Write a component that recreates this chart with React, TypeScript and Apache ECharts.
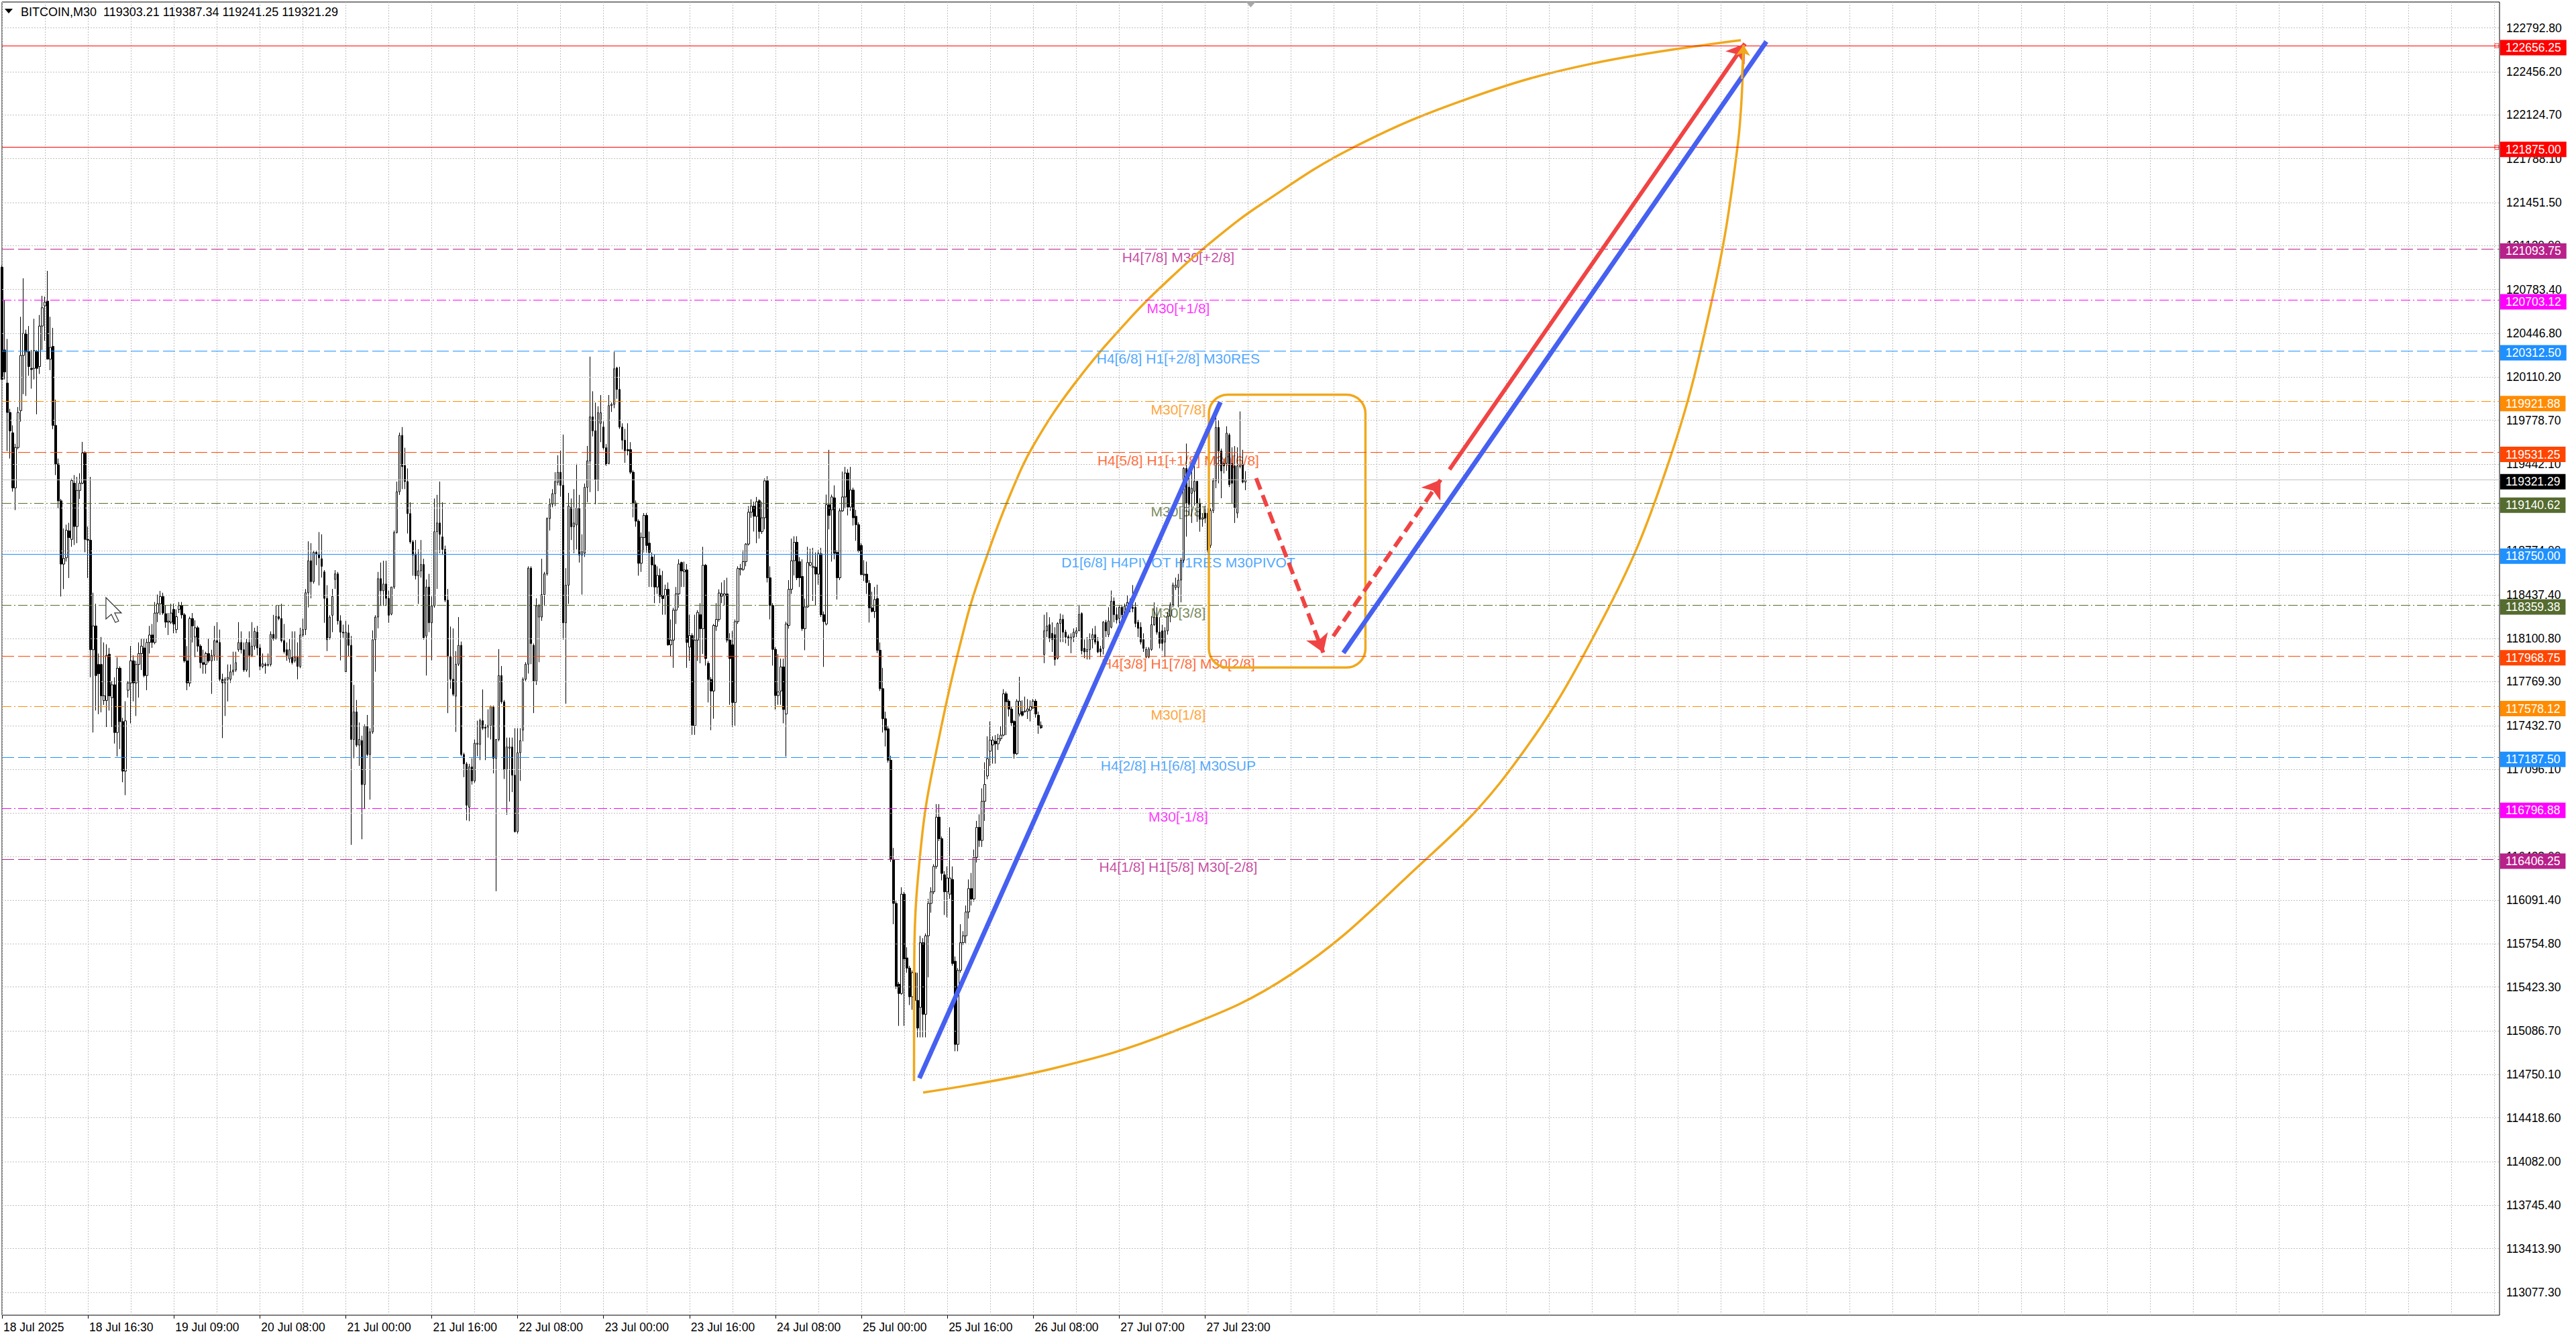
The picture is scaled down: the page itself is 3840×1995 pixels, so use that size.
import React, { useEffect, useRef } from "react";
import * as echarts from "echarts";

// ---------- DATA ----------
const symbolName = "BITCOIN,M30";
const timeLabels = [
  "18 Jul 2025", "18 Jul 16:30", "19 Jul 09:00", "20 Jul 08:00", "21 Jul 00:00",
  "21 Jul 16:00", "22 Jul 08:00", "23 Jul 00:00", "23 Jul 16:00", "24 Jul 08:00",
  "25 Jul 00:00", "25 Jul 16:00", "26 Jul 08:00", "27 Jul 07:00", "27 Jul 23:00",
];
const yTicks = [
  122792.8, 122456.2, 122124.7, 121788.1, 121451.5, 121120.0, 120783.4, 120446.8,
  120110.2, 119778.7, 119442.1, 119105.5, 118774.0, 118437.4, 118100.8, 117769.3,
  117432.7, 117096.1, 116759.5, 116428.0, 116091.4, 115754.8, 115423.3, 115086.7,
  114750.1, 114418.6, 114082.0, 113745.4, 113413.9, 113077.3,
];

// candles: [open, close, low, high]
const seg1 = [
  [120954,120092,120092,120968],[120318,120149,120092,120700],[120064,119838,119541,120403],[119838,119696,119484,119866],
  [119682,119258,119230,119739],[119258,119569,119088,119597],[119569,119838,119555,119880],[119852,120276,119767,120573],
  [120276,120445,119979,120869],[120445,120304,119965,120474],[120304,120191,120120,120502],[120177,120168,120021,120318],
  [120177,120313,120092,120558],[120304,120177,119824,120318],[120191,120502,120134,120587],[120502,120643,120318,120734],
  [120657,120686,120389,120728],[120694,120248,120248,120926],[120248,120338,120163,120573],[120346,119739,119710,120488],
  [119739,119442,119357,119937],[119442,119159,119103,119484],[119159,118673,118424,119174],[118673,118716,118481,118947],
  [118721,118933,118693,118976],[118928,118877,118566,118990],[118863,119315,118806,119329],[119295,118962,118820,119357],
  [118962,119239,118834,119343],[119239,119295,119174,119371],[119295,119527,119287,119612],[119527,118863,118764,119541],
  [118863,118857,118566,118962],[118857,118015,117803,119343],[118015,118198,117379,118453],[118198,117817,117548,118368],
  [117902,117831,117520,117986],[117902,117661,117534,118113],[117625,117661,117591,118071],[117625,117972,117421,118057],
  [117981,117661,117548,118029],[117647,117746,117421,117774],[117746,117379,117294,117803],[117379,117873,117195,117958],
  [117873,117463,117252,117887],[117463,117082,116997,117492],[117082,117469,116898,117619],[117704,117760,117647,117774],
  [117760,117930,117449,118043],[117930,117760,117619,117972],[117760,117902,117506,117930],[117902,117986,117647,118071],
  [117986,118043,117859,118099],[118029,117817,117803,118099],[117817,118071,117704,118099],[118071,118128,117986,118198],
  [118128,118071,118029,118213],[118071,118297,118057,118382],[118297,118368,118227,118439],[118368,118424,118283,118467],
  [118424,118297,118283,118453],[118292,118227,118184,118354],[118227,118235,118128,118297],[118227,118297,118213,118368],
  [118325,118213,118142,118368],[118170,118269,118142,118325],[118325,118354,118297,118382],[118354,118283,118255,118382],
  [118283,117930,117916,118297],[117930,117760,117704,118043],[117760,118255,117732,118269],[118255,118198,118071,118297],
  [118113,118184,117958,118241],[118184,118043,118000,118198],[118043,117916,117873,118057],[117916,117902,117831,118015],
  [117902,117986,117831,118000],[117986,117930,117916,118099],[117930,117972,117676,118015],[117972,118085,117930,118198],
  [118085,118071,117930,118227],[118071,117788,117774,118170],[117788,117760,117336,117831],[117760,117788,117506,117803],
  [117788,117803,117618,117902],[117788,117845,117760,117902],[117845,117859,117817,118000],[117859,117916,117845,118000],
  [118015,118071,118000,118227],[118071,118015,117986,118156],[118015,117859,117845,118071],[117859,118071,117845,118099],
  [118071,117972,117803,118156],[117972,118043,117958,118227],[118043,118156,118015,118184],[118150,118029,117972,118198],
  [118029,117887,117859,118057],[117887,117907,117873,117986],[117902,117893,117831,117916],[117896,117902,117887,117986],
  [117902,118133,117887,118156],[118133,118099,118085,118283],[118099,118269,118093,118354],[118269,118255,118241,118354],
  [118255,118085,118071,118368],[118085,118000,117986,118213],[118015,117972,117930,118071],[117944,118015,117916,118099],
  [117958,117916,117902,118156],[117930,117958,117916,118156],[117958,117887,117788,118071],[117887,118128,117873,118184],
  [118128,118170,118113,118255],[118170,118453,118128,118481],[118453,118699,118340,118848],[118699,118538,118410,118834],
  [118538,118764,118523,118778],[118764,118749,118665,118778],[118749,118721,118509,118919],
];
const seg2 = [
  [118714,118656,118569,118902],[118613,118410,118222,118627],[118410,118092,118005,118511],[118107,118266,118092,118280],
  [118280,118425,118150,118482],[118555,118598,118482,118627],[118598,118237,118208,118613],[118237,118150,117933,118280],
  [118150,118144,118107,118208],[117846,118150,117846,118237],[118144,118049,117962,118208],[118049,117326,116516,118121],
  [117326,117537,117181,117745],[117537,117282,117268,117629],[117282,117326,117123,117456],[117317,116979,116559,117355],
  [116979,117427,116791,117441],[117427,117210,117196,117514],[117210,117384,116863,117412],[117384,118092,117369,118164],
  [118092,118266,117846,118280],[118266,118561,118179,118613],[118561,118468,118352,118685],[118468,118520,118352,118699],
  [118520,118410,118352,118699],[118410,118280,118222,118468],[118289,118497,118280,118497],[118497,118916,118482,118931],
  [118916,119229,118908,119307],[119229,119662,119205,119683],[119662,119422,119249,119726],[119431,119307,119249,119567],
  [119307,119061,118908,119408],[119061,118844,118830,119148],[118844,118743,118584,118858],[118751,118584,118555,118858],
  [118584,118621,118367,118786],[118621,118670,118569,118858],[118670,118107,118092,118714],[118121,118497,117817,118555],
  [118497,118222,118150,118598],[118222,118352,117933,118425],[118352,118922,118338,119177],[118922,118989,118482,119205],
  [118989,118902,118757,119307],[118882,118786,118743,119148],[118786,118396,118381,118815],[118396,117962,117528,118482],
  [117962,117788,117716,118193],[117788,117673,117658,118179],[117658,117904,117384,118005],[117904,118049,117890,118266],
  [118049,117210,117196,118078],[117210,117138,117036,117224],[117138,116820,116704,117152],[116805,117115,116698,117138],
  [117115,117007,116979,117181],[117007,117297,116993,117326],[117288,117297,117196,117470],[117288,117470,117167,117485],
  [117470,117412,117398,117710],[117421,117412,117167,117441],[117421,117433,117340,117557],[117433,117577,117326,117586],
  [117577,117181,117065,117586],[117181,117326,116160,117326],[117326,117817,117311,118020],[117817,117615,117600,117890],
  [117615,117094,117022,117629],[117094,117268,116747,117340],[117259,117268,116848,117340],[117268,117051,116921,117340],
  [117051,116617,116611,117412],[116617,117224,116603,117412],[117224,117317,117007,117412],[117398,117788,117311,117803],
  [117788,117904,117774,117919],[117904,118642,117832,118656],[118642,118063,117904,118656],[118049,117774,117528,118063],
  [117774,118352,117745,118410],[118266,118352,117919,118367],[118266,118439,118237,118714],[118439,118598,118352,118613],
  [118598,119023,118584,119032],[119023,119133,118931,119177],[119133,119214,119110,119249],[119214,119307,119119,119379],
  [119301,119379,119278,119509],[119379,119278,119191,119544],[119278,118222,118092,119668],[118222,118511,117600,118642],
  [118511,119119,118367,119220],[119110,118960,118858,119177],[118960,118989,118757,119249],[118974,119104,118786,119443],
  [119104,118743,118685,119205],[118743,118772,118439,118902],[118757,119263,118728,119292],[119263,119466,119148,119581],
  [119466,119804,119226,120267],[119804,119697,119654,120001],[119697,119321,119133,119914],[119321,119836,119234,119885],
  [119755,119836,119610,119972],[119726,119567,119553,119769],[119567,119437,119428,119596],[119446,119891,119437,119972],
  [119891,119900,119842,119914],[119900,120174,119871,120304],[120180,120015,119943,120189],[120015,119726,119712,120189],
  [119726,119625,119553,119755],[119625,119544,119451,119712],[119553,119544,119509,119755],[119553,119379,119365,119610],
  [119379,119142,119032,119393],[119142,119003,118960,119162],[119003,118679,118584,119017],[118679,118879,118613,118916],
];
const seg3 = [
  [118877,119047,118763,119065],[119047,118816,118763,119065],[118834,118763,118497,118923],[118727,118667,118497,118763],
  [118667,118497,118373,118745],[118497,118586,118444,118656],[118586,118426,118373,118639],[118433,118408,118284,118621],
  [118433,118479,118284,118515],[118479,118053,118046,118532],[118053,118089,117964,118248],[118089,118319,117876,118337],
  [118319,118444,118213,118497],[118444,118674,118337,118710],[118685,118621,118497,118692],[118614,118628,118497,118692],
  [118628,118071,117876,118674],[118035,118124,117929,118284],[118124,117432,117361,118142],[117432,118089,117361,118284],
  [118089,118302,117929,118319],[118284,118177,117911,118373],[118177,118664,117982,118806],[118664,117947,117893,118674],
  [117911,117787,117610,117929],[117787,117698,117397,117805],[117698,118202,117485,118213],[118195,118248,118160,118373],
  [118248,118451,118231,118479],[118426,118444,118373,118532],[118433,118444,118355,118550],[118444,118089,118071,118568],
  [118089,117947,117592,118142],[118053,117610,117421,118160],[117610,118231,117432,118248],[118231,118639,118213,118656],
  [118632,118639,118586,118674],[118632,118692,118621,118781],[118692,118827,118656,118834],[118827,119072,118816,119118],
  [119072,119118,119029,119171],[119118,119040,118923,119153],[119040,119153,118834,119189],[119160,118923,118869,119171],
  [118923,119029,118905,119153],[119029,119313,118940,119331],[119313,118568,118532,119349],[118568,118355,118248,118656],
  [118355,118018,117893,118373],[118018,117663,117556,118035],[117663,117691,117592,117982],[117698,117883,117592,117947],
  [117883,117556,117450,117947],[117521,118213,117194,118231],[118202,118479,118177,118550],[118479,118699,118444,118869],
  [118699,118841,118586,118887],[118841,118568,118550,118887],[118692,118568,118497,118727],[118578,118177,118160,118710],
  [118177,118344,118011,118408],[118344,118685,118337,118806],[118664,118685,118656,118791],[118646,118656,118390,118798],
  [118649,118596,118355,118763],[118596,118752,118515,118781],[118752,118284,118266,118798],[118284,118231,117883,118309],
  [118213,119129,118202,119207],[119129,119047,118940,119551],[119090,119189,118692,119207],[119182,118756,118710,119278],
  [118763,118568,118401,118781],[118568,119082,118550,119100],[119082,119189,119075,119384],[119189,119373,119100,119420],
  [119373,119111,119047,119402],[119111,119242,119082,119420],[119242,119029,118969,119260],[119040,118976,118852,119090],
  [118976,118774,118763,118994],[118816,118593,118586,118834],[118589,118596,118543,118703],[118596,118532,118444,118692],
  [118525,118337,118224,118550],[118337,118309,118302,118461],[118309,118401,118259,118497],[118408,118011,117989,118515],
  [118011,117716,117698,118071],[117716,117485,117379,117876],[117485,117397,117272,117539],[117407,117166,117148,117432],
  [117166,116403,116385,117201],[116403,116066,115906,116492],[116066,115427,115409,116084],[115445,115374,115125,115462],
  [115374,116137,115363,116190],[116137,115640,115125,116155],[115647,115569,115533,115729],[115569,115349,115285,115587],
  [115349,115533,115249,115551],[115533,115320,115125,116013],[115320,115108,115037,115533],[115267,115764,115037,115817],
  [115764,115214,115037,115799],[115214,115817,115037,115835],[115817,116066,115498,116101],[116066,116155,115995,116190],
  [116155,116350,116137,116367],[116350,116729,116332,116829],[116729,116563,116545,116829],[116563,116297,116243,116580],
  [116286,116155,115977,116314],[116155,116261,115959,116350],[116137,116261,116101,116651],[116250,115604,115587,116350],
  [115622,114983,114930,115658],[114983,115551,114930,115569],[115551,115764,115533,115906],[115764,115817,115746,115853],
];
const seg4 = [
  [115817,116000,115760,116050],[116000,116180,115950,116250],[116180,116100,116050,116300],[116100,116420,116080,116480],
  [116420,116650,116380,116700],[116650,116550,116500,116750],[116550,116850,116500,116950],[116850,116980,116700,117150],
  [117045,117178,117020,117350],[117235,117321,117121,117464],[117283,117321,117140,117350],[117312,117292,117140,117359],
  [117292,117331,117245,117369],[117331,117359,117312,117426],[117359,117677,117350,117712],[117677,117616,117359,117693],
  [117620,117559,117502,117635],[117559,117454,117426,117578],[117464,117216,117178,117474],[117216,117620,117207,117635],
  [117521,117620,117502,117807],[117540,117512,117502,117626],[117540,117544,117531,117655],[117544,117559,117483,117636],
  [117550,117578,117464,117626],[117569,117620,117559,117636],[117620,117521,117493,117636],[117512,117435,117369,117540],
  [117435,117416,117407,117464],[117979,118160,117912,118284],[118160,118198,118112,118303],[118207,118103,118074,118265],
  [118141,118093,117998,118226],[118131,117940,117893,118188],[117950,118217,117940,118226],[118217,118249,118074,118293],
  [118249,118150,118074,118284],[118150,118112,118064,118169],[118116,118103,118045,118131],[118097,118112,117988,118141],
  [118112,118150,118074,118179],[118141,118160,118112,118188],[118160,118287,118160,118360],[118293,118007,117979,118303],
  [118026,117998,117950,118093],[118001,118017,117940,118112],[118017,118093,117940,118141],[118093,118131,118026,118179],
  [118131,118074,118055,118198],[118078,117998,117988,118112],[118022,117999,117959,118045],[118026,118226,117979,118236],
  [118226,118160,118112,118245],[118131,118236,118112,118341],[118188,118388,118179,118470],[118388,118284,118226,118417],
  [118284,118245,118217,118341],[118255,118341,118217,118360],[118341,118284,118255,118360],[118274,118350,118245,118369],
  [118350,118379,118303,118436],[118379,118341,118303,118408],[118341,118332,118303,118512],[118341,118217,118188,118379],
  [118226,118179,118112,118245],[118188,118074,118055,118226],[118093,118026,117998,118141],[117960,118017,117950,118036],
  [117960,118021,117950,118036],[118017,118207,118007,118273],[118207,118265,118198,118379],[118265,118150,118131,118341],
  [118150,118064,118026,118265],[118160,118064,118007,118207],[118074,118160,117959,118188],[118160,118274,118131,118303],
  [118274,118360,118226,118379],[118360,118512,118341,118531],[118493,118512,118474,118569],[118493,118550,118341,118598],
  [118550,118703,118379,118722],[118703,119408,118684,119418],[119408,119141,118884,119599],[119265,119132,119046,119408],
  [119217,119256,118989,119408],[119233,119309,119122,119446],[119309,119141,118997,119313],[119141,119017,118922,119179],
  [119017,119029,118960,119065],[119065,119027,118989,119122],[119065,118770,118760,119103],[118817,119084,118798,119103],
  [119084,119313,119065,119332],[119313,119723,119256,119808],[119723,119542,119294,119780],[119542,119389,119179,119561],
  [119446,119427,119370,119484],[119446,119679,119389,119732],[119665,119284,119265,119679],[119446,119294,119141,119570],
  [119427,119103,118989,119580],[119065,119427,119027,119570],[119423,119437,119408,119846],[119437,119303,119294,119551],
  [119303.21,119321.29,119241.25,119387.34],
];

// Murrey-math style level lines
const levelPrices = [122656.25, 121875.0, 121093.75, 120703.12, 120312.5, 119921.88, 119531.25, 119140.62, 118750.0, 118359.38, 117968.75, 117578.12, 117187.5, 116796.88, 116406.25];
const levelColors = ["#FF0000", "#FF0000", "#B8208A", "#FF00FF", "#1E90FF", "#FF8C00", "#FF4500", "#556B2F", "#1E90FF", "#556B2F", "#FF4500", "#FF8C00", "#1E90FF", "#FF00FF", "#B8208A"];
const levelStyles = ["solid", "solid", "dash", "dashdot", "dash", "dashdot", "dash", "dashdot", "solid", "dashdot", "dash", "dashdot", "dash", "dashdot", "dash"];
const levelTexts = ["", "", "H4[7/8] M30[+2/8]", "M30[+1/8]", "H4[6/8] H1[+2/8] M30RES", "M30[7/8]", "H4[5/8] H1[+1/8] M30[6/8]", "M30[5/8]", "D1[6/8] H4PIVOT H1RES M30PIVOT", "M30[3/8]", "H4[3/8] H1[7/8] M30[2/8]", "M30[1/8]", "H4[2/8] H1[6/8] M30SUP", "M30[-1/8]", "H4[1/8] H1[5/8] M30[-2/8]"];
const levelTextBar = 438;
const bidPrice = 119321.29;
const anchorPrices = [122656.25, 121875.0];
const anchorBar = 929;

// drawn objects: [barIndex, price]
const blueLine1 = [[341.6, 114723], [453.7, 119918]];
const blueLine2 = [[499.5, 117991], [657, 122688]];
const redArrow = [[539, 119400], [649, 122672]];
const redDashDown = [[467, 119333], [492, 117993]];
const redDashUp = [[495.7, 118119], [535.7, 119321]];
const orangeBox = [449.4, 119974, 507.7, 117879];
const upperArc = [
  [339.6, 114701], [339.7, 115639], [342.3, 116526], [347.2, 117165], [359.0, 118237], [367.2, 118762],
  [375.7, 119221], [384.0, 119582], [398.9, 120046], [418.9, 120536], [436.4, 120896], [452.2, 121180],
  [468.9, 121438], [502.4, 121866], [547.1, 122258], [591.8, 122517], [647.5, 122698],
];
const lowerArc = [
  [343.0, 114613], [391.0, 114796], [435.6, 115077], [480.1, 115522], [524.9, 116303], [561.3, 117085],
  [596.3, 118260], [619.3, 119376], [636.3, 120662], [646.3, 121888], [648.5, 122662],
];
const lowerArcTip = [[647.9, 122400], [648.5, 122662]];
const shiftMarkBar = 465;
const cursorAt = [38.7, 118416]; // mouse pointer left on the chart

// ---------- CHART ----------
const N = 931;
const Y_MAX = 122991.7;
const Y_MIN = 112902.1;
const FONT = '"Liberation Sans", Arial, sans-serif';
const BLUE = "#4660F0";
const RED = "#F04444";
const ORANGE = "#F0A81C";

function dashOf(s: string): any {
  if (s === "dash") return [18, 6];
  if (s === "dashdot") return [14, 4, 2, 4];
  return "solid";
}

function buildOption(): any {
  const candles = [...seg1, ...seg2, ...seg3, ...seg4];
  const cats = Array.from({ length: N }, (_, i) => String(i));
  const last = candles[candles.length - 1];
  const header = `${symbolName}  ${[last[0], last[3], last[2], last[1]].map((v) => v.toFixed(2)).join(" ")}`;
  const labelEvery = (i: number) => i % 32 === 0 && i / 32 < timeLabels.length;

  const levelItems: any[] = levelPrices.map((p, i) => ({
    yAxis: p,
    lineStyle: { color: levelColors[i], type: dashOf(levelStyles[i]), width: 1 },
    label: { formatter: p.toFixed(2), backgroundColor: levelColors[i], color: "#fff" },
  }));
  levelItems.push({
    yAxis: bidPrice,
    lineStyle: { color: "#C0C0C0", type: "solid", width: 1 },
    label: { formatter: bidPrice.toFixed(2), backgroundColor: "#000", color: "#fff" },
  });

  const textItems = levelPrices
    .map((p, i) => ({ i, p }))
    .filter((d) => levelTexts[d.i])
    .map((d) => ({
      name: levelTexts[d.i],
      value: [levelTextBar, d.p],
      label: { color: levelColors[d.i] },
    }));

  const dashed = { color: RED, width: 6, type: [18, 9] };

  // standard arrow pointer outline (pixels, relative to its tip)
  const cursorShape = [[0, 0], [0, 32], [8, 25], [14, 37], [19, 35], [13, 23], [23, 23]];

  return {
    animation: false,
    backgroundColor: "#fff",
    textStyle: { fontFamily: FONT },
    grid: { left: 3, right: 114, top: 3, bottom: 34, show: true, borderColor: "#000", borderWidth: 1, backgroundColor: "#fff" },
    xAxis: [
      {
        type: "category",
        data: cats,
        boundaryGap: false,
        axisLine: { show: false },
        axisTick: { show: true, interval: labelEvery, length: 5, lineStyle: { color: "#000" } },
        axisLabel: {
          show: true,
          interval: labelEvery,
          formatter: (v: string) => timeLabels[Number(v) / 32] ?? "",
          align: "left",
          margin: 9,
          padding: [0, 0, 0, 2],
          fontFamily: FONT,
          fontSize: 17.5,
          color: "#000",
        },
        splitLine: { show: true, interval: (i: number) => i % 16 === 0, lineStyle: { color: "#C0C0C0", type: [2, 2], width: 1 } },
      },
      { type: "value", min: 0, max: N - 1, show: false },
    ],
    yAxis: {
      type: "value",
      min: Y_MIN,
      max: Y_MAX,
      position: "right",
      axisLine: { show: false },
      axisTick: { show: false },
      axisLabel: { show: false },
      splitLine: { show: false },
    },
    graphic: [
      { type: "polygon", shape: { points: [[7, 13], [19, 13], [13, 20]] }, style: { fill: "#000" }, z: 100 },
      { type: "text", left: 31, top: 9, style: { text: header, font: `18px ${FONT}`, fill: "#000" }, z: 100 },
    ],
    series: [
      {
        type: "scatter",
        xAxisIndex: 1,
        data: [[0, Y_MIN]],
        symbolSize: 0,
        silent: true,
        z: 1,
        markLine: {
          silent: true,
          symbol: ["none", "none"],
          animation: false,
          lineStyle: { color: "#C0C0C0", type: [2, 2], width: 1 },
          label: { show: true, position: "end", distance: 2, padding: [3, 8, 2, 8], fontFamily: FONT, fontSize: 17.5, color: "#000" },
          data: yTicks.map((v) => ({ yAxis: v, label: { formatter: v.toFixed(2) } })),
        },
      },
      {
        type: "scatter",
        xAxisIndex: 1,
        data: [[0, Y_MIN]],
        symbolSize: 0,
        silent: true,
        z: 2,
        markLine: {
          silent: true,
          symbol: ["none", "none"],
          animation: false,
          label: { show: true, position: "end", distance: 1, offset: [0, 3], padding: [3, 8, 2, 8], fontFamily: FONT, fontSize: 17.5 },
          data: levelItems,
        },
      },
      {
        type: "scatter",
        xAxisIndex: 1,
        silent: true,
        z: 2,
        symbol: "rect",
        symbolSize: 6,
        itemStyle: { color: "#fff", borderColor: "#FF0000", borderWidth: 1 },
        data: anchorPrices.map((p) => [anchorBar, p]),
      },
      {
        type: "scatter",
        xAxisIndex: 1,
        symbolSize: 1,
        itemStyle: { color: "transparent" },
        silent: true,
        z: 2,
        label: { show: true, position: "bottom", distance: 1, fontFamily: FONT, fontSize: 21, formatter: "{b}" },
        data: textItems,
      },
      {
        type: "candlestick",
        xAxisIndex: 0,
        data: candles,
        barWidth: 3,
        silent: true,
        z: 3,
        itemStyle: { color: "#fff", color0: "#000", borderColor: "#000", borderColor0: "#000", borderWidth: 1 },
        markPoint: {
          silent: true,
          label: { show: false },
          data: [
            { coord: [String(shiftMarkBar), Y_MAX], symbol: "triangle", symbolRotate: 180, symbolSize: [14, 8], symbolOffset: [0, 4], itemStyle: { color: "#A8A8A8" } },
          ],
        },
      },
      {
        type: "line", xAxisIndex: 1, data: upperArc, smooth: 0.4, showSymbol: false, symbol: "none", silent: true, z: 4,
        lineStyle: { color: ORANGE, width: 3.5 },
      },
      {
        type: "line", xAxisIndex: 1, data: lowerArc, smooth: 0.4, showSymbol: false, symbol: "none", silent: true, z: 4,
        lineStyle: { color: ORANGE, width: 3.5 },
      },
      {
        type: "custom",
        xAxisIndex: 1,
        silent: true,
        z: 4,
        data: [orangeBox],
        renderItem: (_p: any, api: any) => {
          const a = api.coord([api.value(0), api.value(1)]);
          const b = api.coord([api.value(2), api.value(3)]);
          return {
            type: "rect",
            shape: { x: a[0], y: a[1], width: b[0] - a[0], height: b[1] - a[1], r: 28 },
            style: { fill: "none", stroke: ORANGE, lineWidth: 3.5 },
          };
        },
      },
      {
        type: "line", xAxisIndex: 1, data: blueLine1, showSymbol: false, symbol: "none", silent: true, z: 5,
        lineStyle: { color: BLUE, width: 7 },
      },
      {
        type: "line", xAxisIndex: 1, data: blueLine2, showSymbol: false, symbol: "none", silent: true, z: 5,
        lineStyle: { color: BLUE, width: 7 },
      },
      {
        type: "lines",
        coordinateSystem: "cartesian2d",
        xAxisIndex: 1,
        yAxisIndex: 0,
        silent: true,
        z: 6,
        symbol: ["none", "arrow"],
        symbolSize: 26,
        lineStyle: { color: RED, width: 6, opacity: 1 },
        data: [
          { coords: redArrow, lineStyle: { color: RED, width: 6, type: "solid" } },
          { coords: redDashDown, lineStyle: dashed },
          { coords: redDashUp, lineStyle: dashed },
        ],
      },
      {
        type: "lines",
        coordinateSystem: "cartesian2d",
        xAxisIndex: 1,
        yAxisIndex: 0,
        silent: true,
        z: 6,
        symbol: ["none", "arrow"],
        symbolSize: 16,
        lineStyle: { color: ORANGE, width: 3.5, opacity: 1 },
        data: [{ coords: lowerArcTip }],
      },
      {
        type: "custom",
        xAxisIndex: 1,
        silent: true,
        z: 7,
        data: [cursorAt],
        renderItem: (_p: any, api: any) => {
          const c = api.coord([api.value(0), api.value(1)]);
          return {
            type: "polygon",
            shape: { points: cursorShape.map(([dx, dy]) => [c[0] + dx, c[1] + dy]) },
            style: { fill: "#fff", stroke: "#333", lineWidth: 1.2 },
          };
        },
      },
    ],
  };
}

export default function App() {
  const ref = useRef<HTMLDivElement>(null);
  useEffect(() => {
    document.body.style.margin = "0";
    const chart = echarts.init(ref.current!, undefined, { renderer: "svg" });
    chart.setOption(buildOption());
    return () => chart.dispose();
  }, []);
  return <div ref={ref} style={{ width: 3840, height: 1995, background: "#fff" }} />;
}
